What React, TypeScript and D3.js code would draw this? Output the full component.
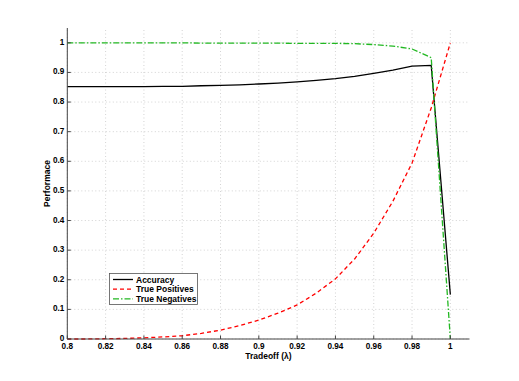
import React from "react";
import * as d3 from "d3";

const lambdas = [0.8, 0.81, 0.82, 0.83, 0.84, 0.85, 0.86, 0.87, 0.88, 0.89, 0.9, 0.91, 0.92, 0.93, 0.94, 0.95, 0.96, 0.97, 0.98, 0.99, 1.0];
const accuracy = [0.852, 0.852, 0.852, 0.852, 0.852, 0.853, 0.853, 0.855, 0.856, 0.858, 0.861, 0.864, 0.868, 0.873, 0.879, 0.887, 0.897, 0.908, 0.921, 0.924, 0.15];
const truePositives = [0.0, 0.0, 0.001, 0.002, 0.004, 0.007, 0.011, 0.019, 0.03, 0.045, 0.064, 0.087, 0.115, 0.155, 0.203, 0.27, 0.357, 0.465, 0.594, 0.78, 1.0];
const trueNegatives = [1.0, 1.0, 1.0, 1.0, 1.0, 1.0, 1.0, 0.999, 0.999, 0.999, 0.999, 0.999, 0.998, 0.998, 0.998, 0.997, 0.994, 0.989, 0.979, 0.95, 0.0];
const xTicks = [0.8, 0.82, 0.84, 0.86, 0.88, 0.9, 0.92, 0.94, 0.96, 0.98, 1];
const yTicks = [0, 0.1, 0.2, 0.3, 0.4, 0.5, 0.6, 0.7, 0.8, 0.9, 1];
const seriesNames = ["Accuracy", "True Positives", "True Negatives"];

const W = 519, H = 381;
const L = 67.3, R = 469.5, T = 28, B = 339;
const FONT = "'Liberation Sans', Arial, Helvetica, sans-serif";

export default function App() {
  const x = d3.scaleLinear().domain([0.8, 1.01]).range([L, R]);
  const y = d3.scaleLinear().domain([0, 1.05]).range([B, T]);
  const mk = (vals: number[]) =>
    d3.line<number>().x((_, i) => x(lambdas[i])).y((v) => y(v))(vals) || "";

  const styles = [
    { color: "#000000", dash: "none", width: 1.3, vals: accuracy },
    { color: "#ff0000", dash: "4,3", width: 1.3, vals: truePositives },
    { color: "#22b822", dash: "6,2,1.5,2", width: 1.3, vals: trueNegatives },
  ];

  const fmt = (v: number) => (v === 0 || v === 1 ? String(v) : String(+v.toFixed(2)));

  return (
    <svg width={W} height={H} style={{ position: "absolute", left: 0, top: 0, background: "#fff" }}>
      <rect x={0} y={0} width={W} height={H} fill="#fff" />
      {/* grid */}
      {xTicks.map((t) => (
        <line key={"gx" + t} x1={x(t)} x2={x(t)} y1={B} y2={T} stroke="#c8c8c8" strokeWidth={0.8} strokeDasharray="1,2.5" />
      ))}
      {yTicks.map((t) => (
        <line key={"gy" + t} x1={L} x2={R} y1={y(t)} y2={y(t)} stroke="#c8c8c8" strokeWidth={0.8} strokeDasharray="1,2.5" />
      ))}
      {/* series */}
      {styles.map((s, i) => (
        <path key={i} d={mk(s.vals)} fill="none" stroke={s.color} strokeWidth={s.width} strokeDasharray={s.dash} />
      ))}
      {/* axes */}
      <line x1={L} x2={R} y1={B} y2={B} stroke="#444" strokeWidth={1} />
      <line x1={L} x2={L} y1={B} y2={T} stroke="#444" strokeWidth={1} />
      {xTicks.map((t) => (
        <g key={"tx" + t}>
          <line x1={x(t)} x2={x(t)} y1={B} y2={B - 3.5} stroke="#444" strokeWidth={1} />
          <text x={x(t)} y={B + 9.5} textAnchor="middle" fontFamily={FONT} fontWeight="bold" fontSize={8.2} fill="#000">
            {fmt(t)}
          </text>
        </g>
      ))}
      {yTicks.map((t) => (
        <g key={"ty" + t}>
          <line x1={L} x2={L + 3.5} y1={y(t)} y2={y(t)} stroke="#444" strokeWidth={1} />
          <text x={L - 3} y={y(t) + 2} textAnchor="end" fontFamily={FONT} fontWeight="bold" fontSize={8.2} fill="#000">
            {fmt(t)}
          </text>
        </g>
      ))}
      <text x={(L + R) / 2} y={358.5} textAnchor="middle" fontFamily={FONT} fontWeight="bold" fontSize={8.5} fill="#000">
        Tradeoff (λ)
      </text>
      <text transform={`translate(50, ${(T + B) / 2}) rotate(-90)`} textAnchor="middle" fontFamily={FONT} fontWeight="bold" fontSize={8.5} fill="#000">
        Performace
      </text>
      {/* legend */}
      <rect x={109.5} y={273.5} width={88} height={31} fill="#fff" stroke="#555" strokeWidth={0.8} />
      {styles.map((s, i) => (
        <g key={"lg" + i}>
          <line x1={113} x2={133} y1={279.5 + i * 9.7} y2={279.5 + i * 9.7} stroke={s.color} strokeWidth={1.3} strokeDasharray={s.dash} />
          <text x={136} y={282.5 + i * 9.7} fontFamily={FONT} fontWeight="bold" fontSize={8.5} fill="#000">
            {seriesNames[i]}
          </text>
        </g>
      ))}
    </svg>
  );
}
